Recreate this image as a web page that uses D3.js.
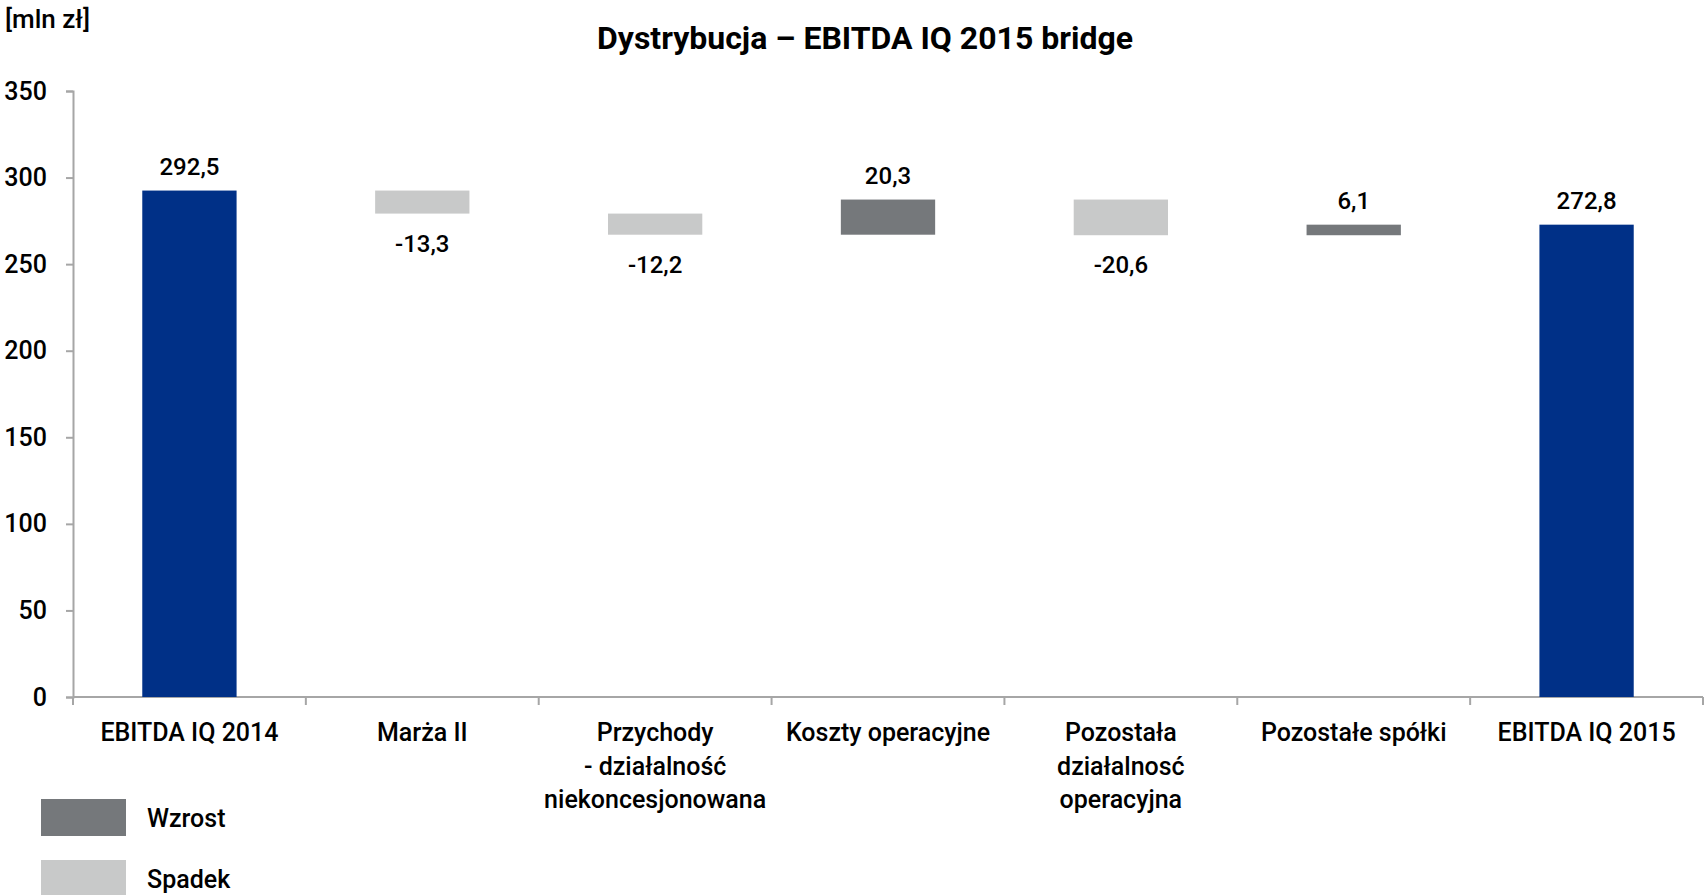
<!DOCTYPE html>
<html>
<head>
<meta charset="utf-8">
<script src="https://cdn.jsdelivr.net/npm/d3@7"></script>
<style>
  body { margin: 0; background: #fff; }
  text { font-family: Roboto, "Noto Sans", sans-serif; fill: #000; font-weight: 500; }
</style>
</head>
<body>
<svg id="chart"></svg>
<script>
// categories (multi-line labels as in the original)
var categories = [
  ["EBITDA IQ 2014"],
  ["Marża II"],
  ["Przychody", "- działalność", "niekoncesjonowana"],
  ["Koszty operacyjne"],
  ["Pozostała", "działalnosć", "operacyjna"],
  ["Pozostałe spółki"],
  ["EBITDA IQ 2015"]
];
var values = [292.5, -13.3, -12.2, 20.3, -20.6, 6.1, 272.8];
var kinds = ["total", "delta", "delta", "delta", "delta", "delta", "total"];
var yTicks = [0, 50, 100, 150, 200, 250, 300, 350];
var legendItems = ["Wzrost", "Spadek"];

var colors = { total: "#003087", up: "#75787b", down: "#c8c9c9", axis: "#a6a6a6" };

var W = 1706, H = 895;
var margin = { top: 91, right: 3, bottom: 198, left: 73 };

var svg = d3.select("#chart")
    .attr("width", W)
    .attr("height", H);

var pl = d3.formatLocale({ decimal: ",", thousands: " ", grouping: [3], currency: ["", " zł"], minus: "-" });
var fmt = pl.format(".1f");

// build waterfall segments
var bars = [];
var running = 0;
values.forEach(function(v, i){
  var d = { i: i, v: v, kind: kinds[i] };
  if(kinds[i] == "total"){
    d.y0 = 0; d.y1 = v; running = v;
  } else {
    d.y0 = running; d.y1 = running + v; running += v;
  }
  d.lo = Math.min(d.y0, d.y1);
  d.hi = Math.max(d.y0, d.y1);
  bars.push(d);
});

var x = d3.scaleBand()
    .domain(d3.range(categories.length))
    .range([margin.left, W - margin.right])
    .paddingInner(0).paddingOuter(0);

var y = d3.scaleLinear()
    .domain([0, 350])
    .range([H - margin.bottom, margin.top]);

var bw = x.bandwidth() * 0.405;

// y axis
var yAxis = svg.append("g")
    .attr("transform", "translate(" + margin.left + ",0)")
    .call(d3.axisLeft(y).tickValues(yTicks).tickSize(7).tickPadding(19).tickFormat(d3.format("d")));
yAxis.select(".domain").attr("stroke", colors.axis).attr("stroke-width", 2);
yAxis.selectAll(".tick line").attr("stroke", colors.axis).attr("stroke-width", 2);
yAxis.selectAll(".tick text")
    .attr("font-size", "25px")
    .attr("font-family", "Roboto, sans-serif")
    .attr("fill", "#000");

// x axis line + category boundary ticks
var y0 = y(0);
svg.append("line")
    .attr("x1", margin.left).attr("x2", W - margin.right)
    .attr("y1", y0).attr("y2", y0)
    .attr("stroke", colors.axis).attr("stroke-width", 2);

var bounds = d3.range(categories.length + 1).map(function(i){
  return i < categories.length ? x(i) : x(i - 1) + x.bandwidth();
});
svg.selectAll(".xtick")
    .data(bounds)
  .enter().append("line")
    .attr("class", "xtick")
    .attr("x1", function(d){ return d; }).attr("x2", function(d){ return d; })
    .attr("y1", y0).attr("y2", y0 + 8)
    .attr("stroke", colors.axis).attr("stroke-width", 2);

// category labels
var cl = svg.selectAll(".catlabel")
    .data(categories)
  .enter().append("text")
    .attr("class", "catlabel")
    .attr("text-anchor", "middle")
    .attr("font-size", "25px")
    .attr("transform", function(d, i){ return "translate(" + (x(i) + x.bandwidth()/2) + "," + (y0 + 44) + ")"; });
cl.selectAll("tspan")
    .data(function(d){ return d; })
  .enter().append("tspan")
    .attr("x", 0)
    .attr("y", function(d, j){ return j * 33.5; })
    .text(function(d){ return d; });

// bars
svg.selectAll(".bar")
    .data(bars)
  .enter().append("rect")
    .attr("class", "bar")
    .attr("x", function(d){ return x(d.i) + x.bandwidth()/2 - bw/2; })
    .attr("width", bw)
    .attr("y", function(d){ return y(d.hi); })
    .attr("height", function(d){ return y(d.lo) - y(d.hi); })
    .attr("fill", function(d){
      if(d.kind == "total") return colors.total;
      return d.v >= 0 ? colors.up : colors.down;
    });

// value labels
svg.selectAll(".vlabel")
    .data(bars)
  .enter().append("text")
    .attr("class", "vlabel")
    .attr("text-anchor", "middle")
    .attr("font-size", "24px")
    .attr("x", function(d){ return x(d.i) + x.bandwidth()/2; })
    .attr("y", function(d){
      if(d.v < 0) return y(d.lo) + 38;
      return y(d.hi) - 16;
    })
    .text(function(d){ return fmt(d.v); });

// title + unit
svg.append("text")
    .attr("text-anchor", "middle")
    .style("font-weight", "bold")
    .attr("font-size", "32px")
    .attr("x", 865)
    .attr("y", 49)
    .text("Dystrybucja – EBITDA IQ 2015 bridge");

svg.append("text")
    .attr("font-size", "26px")
    .attr("x", 5)
    .attr("y", 28)
    .text("[mln zł]");

// legend
var lg = svg.selectAll(".legend")
    .data(legendItems)
  .enter().append("g")
    .attr("class", "legend")
    .attr("transform", function(d, i){ return "translate(41," + (799 + i * 61) + ")"; });
lg.append("rect")
    .attr("width", 85)
    .attr("height", 37)
    .attr("fill", function(d, i){ return i == 0 ? colors.up : colors.down; });
lg.append("text")
    .attr("x", 106)
    .attr("y", 28)
    .attr("font-size", "25px")
    .text(function(d){ return d; });
</script>
</body>
</html>
